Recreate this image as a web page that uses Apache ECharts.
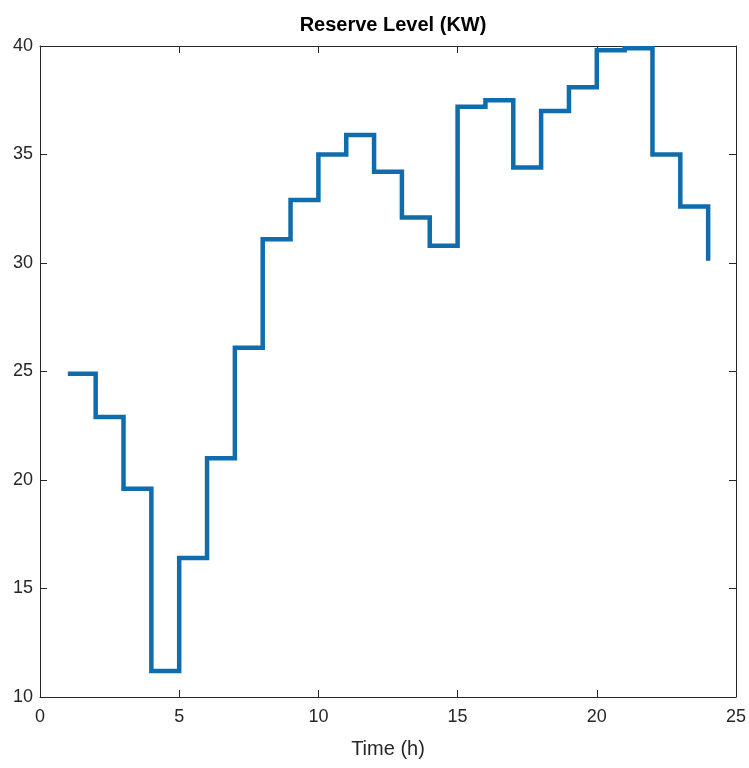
<!DOCTYPE html>
<html>
<head>
<meta charset="utf-8">
<script src="https://cdn.jsdelivr.net/npm/echarts@6/dist/echarts.min.js"></script>
<style>
  html, body { margin: 0; padding: 0; background: #fff; }
  #chart { width: 749px; height: 768px; }
</style>
</head>
<body>
<div id="chart"></div>
<script>
// hours and reserve level (stairs plot)
const hours = [1,2,3,4,5,6,7,8,9,10,11,12,13,14,15,16,17,18,19,20,21,22,23,24]
const reserve = [24.9,22.9,19.6,11.2,16.4,21.0,26.1,31.1,32.9,35.0,35.9,34.2,
                 32.1,30.8,37.2,37.5,34.4,37.0,38.1,39.8,39.9,35.0,32.6,30.1]

const font = '"Liberation Sans", Arial, sans-serif'
const axisColor = '#262626'

const chart = echarts.init(document.getElementById('chart'))

const boxAxis = (extra) => Object.assign({
  type: 'value',
  axisLine: { show: true, onZero: false, lineStyle: { color: axisColor, width: 1 } },
  axisTick: { show: true, inside: true, length: 7, lineStyle: { color: axisColor } },
  axisLabel: { show: false },
  splitLine: { show: false }
}, extra)

var option = {
  animation: false,
  backgroundColor: '#fff',
  title: {
    text: 'Reserve Level (KW)',
    left: 388,
    top: 10,
    textAlign: 'center',
    textStyle: { fontFamily: font, fontSize: 20, fontWeight: 'bold', color: '#000' }
  },
  grid: { left: 40, right: 12, top: 46, bottom: 71, containLabel: false },
  xAxis: [
    boxAxis({
      position: 'bottom', min: 0, max: 25, interval: 5,
      axisLabel: { show: true, margin: 11, fontFamily: font, fontSize: 18, color: axisColor },
      name: 'Time (h)', nameLocation: 'middle', nameGap: 42,
      nameTextStyle: { fontFamily: font, fontSize: 20, color: axisColor }
    }),
    boxAxis({ position: 'top', min: 0, max: 25, interval: 5 })
  ],
  yAxis: [
    boxAxis({
      position: 'left', min: 10, max: 40, interval: 5,
      axisLabel: { show: true, margin: 7, fontFamily: font, fontSize: 18, color: axisColor }
    }),
    boxAxis({ position: 'right', min: 10, max: 40, interval: 5 })
  ],
  series: [{
    type: 'line',
    step: 'end',
    data: hours.map((h, i) => [h, reserve[i]]),
    symbol: 'none',
    lineStyle: { color: '#0F6CAD', width: 4.5, join: 'miter', cap: 'butt' },
    clip: false
  }]
}

chart.setOption(option)
</script>
</body>
</html>
